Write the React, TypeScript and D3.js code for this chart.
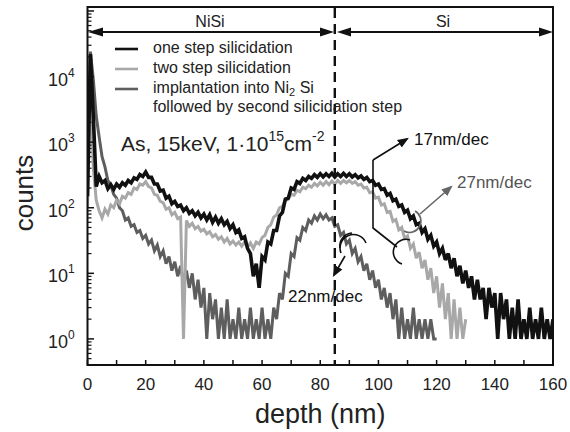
import React from "react";
import * as d3 from "d3";

// depth (nm) = index in each series (1 nm spacing)
const oneStep = [
  150, 22000, 2500, 210, 300, 240, 260, 195, 225, 190,
  230, 205, 240, 220, 260, 240, 285, 270, 320, 300,
  350, 290, 290, 230, 230, 180, 185, 140, 150, 115,
  125, 105, 110, 90, 100, 82, 90, 75, 85, 70,
  80, 65, 78, 60, 72, 58, 68, 55, 62, 48,
  55, 42, 46, 34, 36, 24, 20, 9, 14, 6,
  18, 16, 30, 28, 45, 45, 75, 85, 135, 140,
  200, 190, 250, 235, 280, 260, 300, 280, 320, 290,
  330, 295, 330, 300, 335, 295, 330, 300, 335, 300,
  330, 295, 320, 285, 305, 270, 290, 250, 260, 220,
  230, 190, 195, 155, 165, 128, 135, 105, 110, 85,
  92, 68, 75, 55, 58, 42, 48, 33, 38, 26,
  30, 20, 24, 16, 20, 12, 17, 9, 13, 7,
  11, 6, 9, 4, 8, 4, 6, 2, 6, 3,
  5, 1, 5, 2, 4, 1, 3, 1, 4, 1,
  2, 1, 3, 1, 2, 1, 3, 1, 2, 1, 2,
];

const twoStep = [
  100, 8000, 400, 130, 90, 70, 95, 80, 110, 100,
  130, 115, 150, 140, 170, 160, 200, 190, 230, 220,
  250, 210, 200, 160, 155, 125, 120, 95, 100, 78,
  85, 68, 72, 1, 64, 52, 58, 48, 52, 44,
  47, 40, 43, 36, 39, 33, 36, 30, 34, 28,
  31, 27, 30, 26, 30, 25, 29, 24, 30, 28,
  35, 38, 50, 55, 72, 78, 100, 105, 130, 135,
  160, 155, 185, 175, 205, 195, 220, 205, 235, 215,
  245, 220, 250, 225, 255, 230, 260, 235, 260, 240,
  260, 235, 250, 220, 230, 200, 205, 170, 175, 140,
  145, 110, 115, 85, 88, 62, 66, 46, 50, 34,
  37, 24, 28, 17, 21, 12, 16, 8, 12, 5,
  9, 3, 7, 2, 5, 1, 4, 1, 3, 1, 2,
];

const implantNi2Si = [
  500, 24000, 9000, 2500, 1200, 600, 420, 260, 220, 160,
  140, 100, 90, 65, 70, 52, 55, 42, 45, 34,
  38, 28, 32, 22, 27, 18, 22, 14, 18, 11,
  15, 9, 13, 7, 11, 6, 10, 4, 8, 3,
  6, 1, 5, 2, 4, 1, 3, 1, 4, 1,
  2, 1, 3, 1, 2, 1, 3, 1, 2, 1,
  3, 1, 2, 1, 3, 2, 5, 4, 10, 9,
  20, 18, 35, 32, 50, 45, 65, 58, 75, 65,
  80, 68, 78, 65, 70, 52, 55, 38, 42, 28,
  32, 20, 24, 15, 18, 11, 14, 8, 11, 6,
  8, 4, 6, 3, 5, 2, 4, 1, 3, 1,
  2, 1, 3, 1, 2, 1, 2, 1, 2, 1, 1,
];

const legendLabels = [
  "one step silicidation",
  " two step silicidation",
  "implantation into Ni",
];
const seriesColors = ["#111111", "#a8a8a8", "#5e5e5e"];
const xTicks = [0, 20, 40, 60, 80, 100, 120, 140, 160];
const yDecades = [0, 1, 2, 3, 4];
const interfaceDepth = 85;

export default function App() {
  const W = 570, H = 432;
  const x = d3.scaleLinear().domain([0, 160]).range([87.5, 553]);
  const y = d3.scaleLog().domain([0.4, 1.15e5]).range([365, 7]);
  const line = d3
    .line<number>()
    .x((_, i) => x(i))
    .y((v) => y(v));

  const minorTicks: number[] = [];
  for (let e = -1; e <= 5; e++) {
    for (let m = 2; m <= 9; m++) {
      const v = m * Math.pow(10, e);
      if (v >= 0.4 && v <= 1.15e5) minorTicks.push(v);
    }
  }
  const majorTicks = [1, 10, 100, 1000, 10000, 100000];
  const font = "'Liberation Sans', Arial, sans-serif";
  const xMinor = d3.range(0, 161, 10);
  const xi = x(interfaceDepth);

  const series = [implantNi2Si, twoStep, oneStep];
  const cols = [seriesColors[2], seriesColors[1], seriesColors[0]];
  const widths = [3, 3, 3.6];

  return (
    <svg
      width={W}
      height={H}
      style={{ position: "absolute", left: 0, top: 0, background: "#fff" }}
      fontFamily={font}
    >
      <defs>
        <marker id="ahB" viewBox="0 0 10 10" refX="8" refY="5" markerWidth="7" markerHeight="7" orient="auto">
          <path d="M0,1 L10,5 L0,9 Z" fill="#111" />
        </marker>
        <marker id="ahG" viewBox="0 0 10 10" refX="8" refY="5" markerWidth="7" markerHeight="7" orient="auto">
          <path d="M0,1 L10,5 L0,9 Z" fill="#666" />
        </marker>
        <clipPath id="plot">
          <rect x={87.5} y={7} width={553 - 87.5} height={358} />
        </clipPath>
      </defs>

      {/* data */}
      <g clipPath="url(#plot)">
        {series.map((s, k) => (
          <path
            key={k}
            d={line(s) || ""}
            fill="none"
            stroke={cols[k]}
            strokeWidth={widths[k]}
            strokeLinejoin="miter"
            strokeMiterlimit={3}
          />
        ))}
      </g>

      {/* interface dashed line */}
      <line x1={xi} x2={xi} y1={8} y2={365} stroke="#111" strokeWidth={2.4} strokeDasharray="10,6" />

      {/* frame */}
      <rect x={87.5} y={7} width={553 - 87.5} height={358} fill="none" stroke="#111" strokeWidth={2} />

      {/* x ticks */}
      {xMinor.map((t) => (
        <line key={t} x1={x(t)} x2={x(t)} y1={365} y2={360} stroke="#111" strokeWidth={1.5} />
      ))}
      {xTicks.map((t) => (
        <text key={t} x={x(t)} y={390} fontSize={17} textAnchor="middle" fill="#222">
          {t}
        </text>
      ))}
      <text x={(87.5 + 553) / 2} y={423} fontSize={27} textAnchor="middle" fill="#222">
        depth (nm)
      </text>

      {/* y ticks */}
      {majorTicks.map((t) => (
        <line key={t} x1={87.5} x2={94} y1={y(t)} y2={y(t)} stroke="#111" strokeWidth={1.5} />
      ))}
      {minorTicks.map((t) => (
        <line key={t} x1={87.5} x2={91.5} y1={y(t)} y2={y(t)} stroke="#111" strokeWidth={1.2} />
      ))}
      {yDecades.map((e) => (
        <text key={e} x={48} y={y(Math.pow(10, e)) + 9} fontSize={18} fill="#222">
          10
          <tspan dy={-9} fontSize={12}>
            {e}
          </tspan>
        </text>
      ))}
      <text
        transform={`translate(33,193) rotate(-90)`}
        fontSize={26}
        textAnchor="middle"
        fill="#222"
      >
        counts
      </text>

      {/* NiSi / Si region arrows */}
      <line x1={95} x2={327} y1={32} y2={32} stroke="#111" strokeWidth={2} />
      <line x1={344} x2={546} y1={32} y2={32} stroke="#111" strokeWidth={2} />
      <path d="M88,32 L103,27.5 L103,36.5 Z" fill="#111" />
      <path d="M334,32 L320,27.5 L320,36.5 Z" fill="#111" />
      <path d="M337,32 L351,27.5 L351,36.5 Z" fill="#111" />
      <path d="M553,32 L539,27.5 L539,36.5 Z" fill="#111" />
      <text x={210} y={27} fontSize={16} textAnchor="middle" fill="#222">NiSi</text>
      <text x={443} y={27} fontSize={16} textAnchor="middle" fill="#222">Si</text>

      {/* legend */}
      {legendLabels.map((lab, i) => (
        <g key={i}>
          <line x1={115} x2={138} y1={49 + i * 20} y2={49 + i * 20} stroke={seriesColors[i]} strokeWidth={2.6} />
          <text x={153} y={53 + i * 20} fontSize={16} fill="#222">
            {lab}
            {i === 2 ? (
              <>
                <tspan dy={3} fontSize={11}>2</tspan>
                <tspan dy={-3}> Si</tspan>
              </>
            ) : null}
          </text>
        </g>
      ))}
      <text x={153} y={112} fontSize={16} fill="#222">followed by second silicidation step</text>
      <text x={121} y={151} fontSize={21} fill="#222">
        As, 15keV, 1·10
        <tspan dy={-10} fontSize={14}>15</tspan>
        <tspan dy={10}>cm</tspan>
        <tspan dy={-10} fontSize={14}>-2</tspan>
      </text>

      {/* 17nm/dec annotation */}
      <polyline points="397,247 373,228 373,160" fill="none" stroke="#111" strokeWidth={1.6} />
      <line x1={373} y1={160} x2={407} y2={139} stroke="#111" strokeWidth={1.6} markerEnd="url(#ahB)" />
      <path d="M410,240 A12,12 0 0 0 402,264" fill="none" stroke="#111" strokeWidth={1.6} />
      <text x={414} y={145} fontSize={17} fill="#111">17nm/dec</text>

      {/* 27nm/dec annotation */}
      <path d="M415,211 A11,11 0 1 1 404,231" fill="none" stroke="#666" strokeWidth={1.6} />
      <line x1={420} y1={214} x2={451} y2={187} stroke="#666" strokeWidth={1.6} markerEnd="url(#ahG)" />
      <text x={457} y={188} fontSize={17} fill="#555">27nm/dec</text>

      {/* 22nm/dec annotation */}
      <path d="M341,253 A13,13 0 0 1 366,243" fill="none" stroke="#111" strokeWidth={1.6} />
      <path d="M352,233 A13,13 0 0 0 340,248" fill="none" stroke="#111" strokeWidth={1.6} />
      <line x1={345} y1={256} x2={334} y2={275} stroke="#111" strokeWidth={1.6} markerEnd="url(#ahB)" />
      <text x={288} y={302} fontSize={17} fill="#111">22nm/dec</text>
    </svg>
  );
}
